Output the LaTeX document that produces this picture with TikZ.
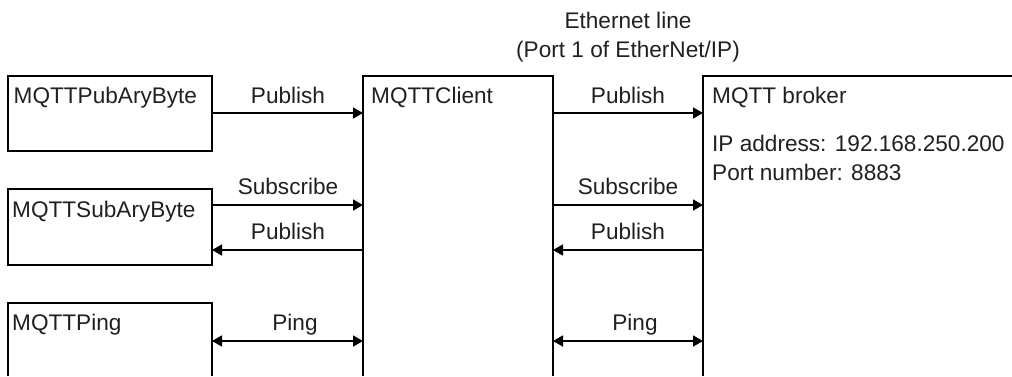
\documentclass[tikz,border=0pt]{standalone}
\usepackage{fontspec}
\setmainfont{Liberation Sans}
\usetikzlibrary{arrows.meta}
\definecolor{ink}{HTML}{231F20}
\tikzset{
  x=1pt,y=-1pt,
  boxline/.style={draw=black,line width=1.6pt,line join=miter},
  lab/.style={inner sep=0pt,text=ink,font=\fontsize{22.6pt}{26pt}\selectfont,anchor=base},
  title/.style={lab,anchor=base west},
  flow/.style={draw=black,line width=1.6pt,-{Triangle[length=10pt,width=11pt]}},
  both/.style={draw=black,line width=1.6pt,{Triangle[length=10pt,width=11pt]}-{Triangle[length=10pt,width=11pt]}},
}
\begin{document}
\begin{tikzpicture}
\useasboundingbox (0,0) rectangle (1012,376);
% left boxes
\draw[boxline] (8,76) rectangle (212,151);
\draw[boxline] (8,189) rectangle (212,265);
\draw[boxline] (8,376) -- (8,303) -- (212,303) -- (212,376);
% client and broker
\draw[boxline] (363,376) -- (363,76) -- (553,76) -- (553,376);
\draw[boxline] (703,376) -- (703,76) -- (1012,76);
% anchors on box edges
\coordinate (pubE) at (212,113);
\coordinate (cPubW) at (363,113);
\coordinate (cPubE) at (553,113);
\coordinate (bPubW) at (703,113);
\coordinate (subE) at (212,205);
\coordinate (cSubW) at (363,205);
\coordinate (cSubE) at (553,205);
\coordinate (bSubW) at (703,205);
\coordinate (subE2) at (212,250);
\coordinate (cRetW) at (363,250);
\coordinate (cRetE) at (553,250);
\coordinate (bRetW) at (703,250);
\coordinate (pingE) at (212,341);
\coordinate (cPingW) at (363,341);
\coordinate (cPingE) at (553,341);
\coordinate (bPingW) at (703,341);
% connectors
\draw[flow] (pubE) -- (cPubW);
\draw[flow] (cPubE) -- (bPubW);
\draw[flow] (subE) -- (cSubW);
\draw[flow] (cSubE) -- (bSubW);
\draw[flow] (cRetW) -- (subE2);
\draw[flow] (bRetW) -- (cRetE);
\draw[both] (pingE) -- (cPingW);
\draw[both] (cPingE) -- (bPingW);
% box titles
\node[title] (tPub) at (13.5,103) {MQTTPubAryByte};
\node[title] (tSub) at (12,217) {MQTTSubAryByte};
\node[title] (tPing) at (12,330) {MQTTPing};
\node[title] (tClient) at (371,103) {MQTTClient};
\node[title] (tBroker) at (712,103) {MQTT broker};
\node[title] (tIp) at (712,151.5) {IP address: 192.168.250.200};
\node[title] (tPort) at (712,180) {Port number: 8883};
% connector labels
\node[lab] (l1) at (288,103) {Publish};
\node[lab] (l2) at (288,194) {Subscribe};
\node[lab] (l3) at (288,239) {Publish};
\node[lab] (l4) at (295,330) {Ping};
\node[lab] (r1) at (628,103) {Publish};
\node[lab] (r2) at (628,194) {Subscribe};
\node[lab] (r3) at (628,239) {Publish};
\node[lab] (r4) at (635,330) {Ping};
% heading
\node[lab] (h1) at (628,28) {Ethernet line};
\node[lab] (h2) at (628,57) {(Port 1 of EtherNet/IP)};
\end{tikzpicture}
\end{document}
